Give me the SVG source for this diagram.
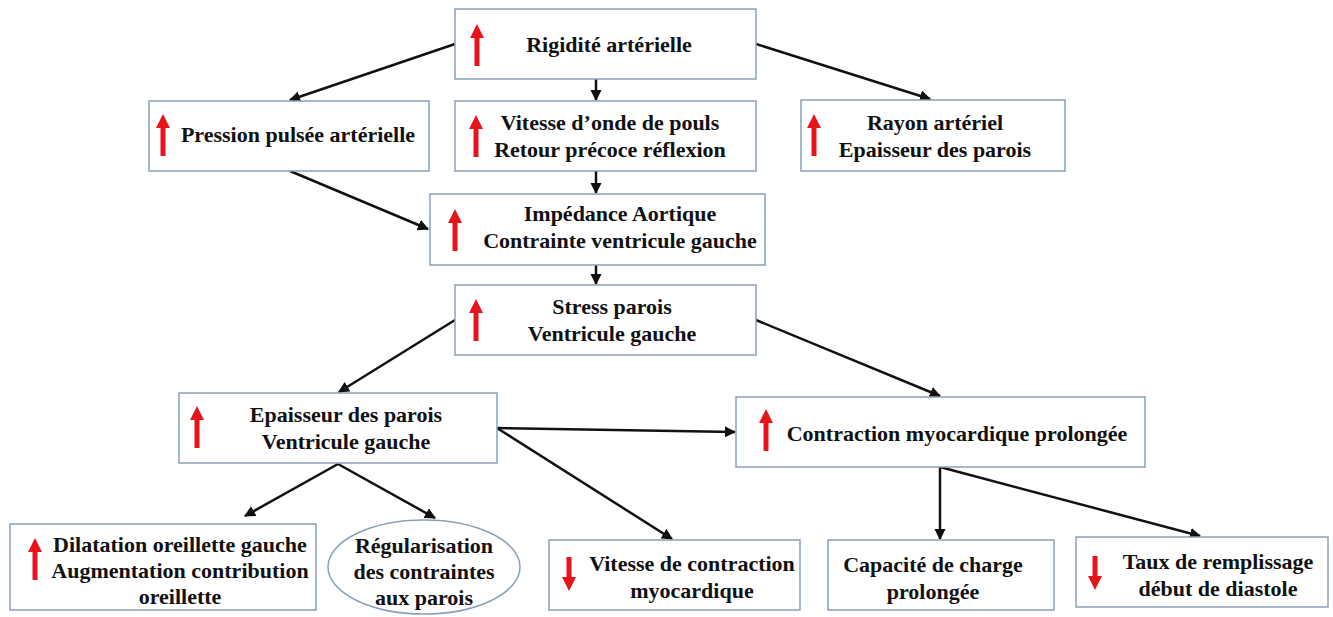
<svg xmlns="http://www.w3.org/2000/svg" width="1333" height="617" viewBox="0 0 1333 617">
<style>
.box{fill:#fff;stroke:#8aa0b8;stroke-width:1.5}
.t{font-family:"Liberation Serif",serif;font-weight:bold;font-size:22px;fill:#111;text-anchor:middle}
.c{stroke:#111;stroke-width:2.5;fill:none;marker-end:url(#ah)}
.red{fill:#e8141b}
</style>
<defs>
<marker id="ah" viewBox="0 0 10 10" refX="9" refY="5" markerWidth="4.5" markerHeight="4.5" orient="auto" markerUnits="strokeWidth">
<path d="M0,0 L10,5 L0,10 z" fill="#111"/>
</marker>
<path id="up" d="M-2.5,42 L-2.5,14 L-7,14 L0,0 L7,14 L2.5,14 L2.5,42 z"/>
<path id="down" d="M-2.5,0 L-2.5,20 L-7,20 L0,34 L7,20 L2.5,20 L2.5,0 z"/>
</defs>
<rect width="1333" height="617" fill="#fff"/>
<g id="connectors">
<line class="c" x1="455" y1="44" x2="290" y2="100"/>
<line class="c" x1="596" y1="79" x2="596" y2="100"/>
<line class="c" x1="756" y1="44" x2="930" y2="99"/>
<line class="c" x1="290" y1="171" x2="428" y2="229"/>
<line class="c" x1="596" y1="171" x2="596" y2="193"/>
<line class="c" x1="596" y1="265" x2="596" y2="284"/>
<line class="c" x1="455" y1="320" x2="339" y2="392"/>
<line class="c" x1="756" y1="320" x2="940" y2="396"/>
<line class="c" x1="497" y1="428" x2="735" y2="432"/>
<line class="c" x1="497" y1="428" x2="672" y2="539"/>
<line class="c" x1="338" y1="464" x2="245" y2="516"/>
<line class="c" x1="338" y1="464" x2="435" y2="518"/>
<line class="c" x1="940" y1="467" x2="940" y2="539"/>
<line class="c" x1="940" y1="467" x2="1200" y2="536"/>
</g>
<g id="n1"><rect class="box" x="455" y="9" width="301" height="70"/><use href="#up" class="red" x="477" y="24"/><text class="t" x="609" y="52">Rigidité artérielle</text></g>
<g id="n2"><rect class="box" x="149" y="101" width="280" height="70"/><use href="#up" class="red" x="163" y="114"/><text class="t" x="298" y="142">Pression pulsée artérielle</text></g>
<g id="n3"><rect class="box" x="455" y="101" width="301" height="70"/><use href="#up" class="red" x="476" y="115"/><text class="t" x="610" y="130">Vitesse d’onde de pouls</text><text class="t" x="610" y="157">Retour précoce réflexion</text></g>
<g id="n4"><rect class="box" x="801" y="100" width="264" height="71"/><use href="#up" class="red" x="814" y="114"/><text class="t" x="935" y="130">Rayon artériel</text><text class="t" x="935" y="157">Epaisseur des parois</text></g>
<g id="n5"><rect class="box" x="430" y="194" width="335" height="71"/><use href="#up" class="red" x="455" y="209"/><text class="t" x="620" y="221">Impédance Aortique</text><text class="t" x="620" y="248">Contrainte ventricule gauche</text></g>
<g id="n6"><rect class="box" x="455" y="285" width="301" height="70"/><use href="#up" class="red" x="476" y="299"/><text class="t" x="612" y="314">Stress parois</text><text class="t" x="612" y="341">Ventricule gauche</text></g>
<g id="n7"><rect class="box" x="179" y="393" width="318" height="70"/><use href="#up" class="red" x="197" y="406"/><text class="t" x="346" y="422">Epaisseur des parois</text><text class="t" x="346" y="449">Ventricule gauche</text></g>
<g id="n8"><rect class="box" x="736" y="397" width="409" height="70"/><use href="#up" class="red" x="766" y="409"/><text class="t" x="957" y="441">Contraction myocardique prolongée</text></g>
<g id="n9"><rect class="box" x="10" y="524" width="306" height="86"/><use href="#up" class="red" x="35" y="538"/><text class="t" x="180" y="552">Dilatation oreillette gauche</text><text class="t" x="180" y="578">Augmentation contribution</text><text class="t" x="180" y="604">oreillette</text></g>
<g id="n10"><ellipse cx="424" cy="567" rx="96" ry="47" fill="#fff" stroke="#8aa0b8" stroke-width="1.5"/><text class="t" x="424" y="553">Régularisation</text><text class="t" x="424" y="579">des contraintes</text><text class="t" x="424" y="605">aux parois</text></g>
<g id="n11"><rect class="box" x="549" y="540" width="251" height="70"/><use href="#down" class="red" x="569" y="557"/><text class="t" x="692" y="571">Vitesse de contraction</text><text class="t" x="692" y="598">myocardique</text></g>
<g id="n12"><rect class="box" x="828" y="540" width="226" height="70"/><text class="t" x="933" y="572">Capacité de charge</text><text class="t" x="933" y="599">prolongée</text></g>
<g id="n13"><rect class="box" x="1076" y="537" width="252" height="70"/><use href="#down" class="red" x="1095" y="556"/><text class="t" x="1218" y="569">Taux de remplissage</text><text class="t" x="1218" y="596">début de diastole</text></g>
</svg>
